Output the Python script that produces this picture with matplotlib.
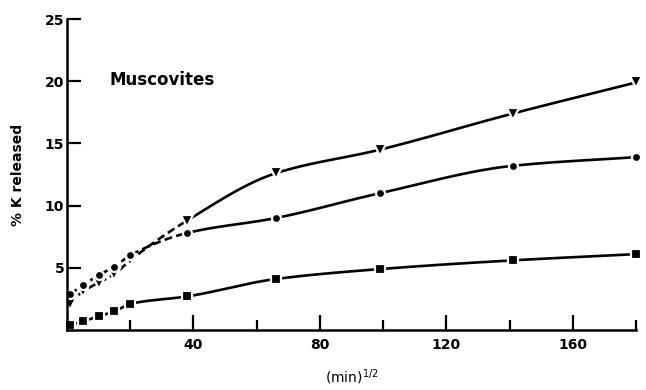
import numpy as np
import matplotlib.pyplot as plt
from matplotlib.ticker import MultipleLocator

# square root of time, (min)^1/2
time_sqrt = [1, 5, 10, 15, 20, 38, 66, 99, 141, 180]

# % K released for the three muscovite samples
k_triangle = [2.1, 3.1, 3.8, 4.5, 5.6, 8.8, 12.6, 14.5, 17.4, 19.9]
k_circle = [2.9, 3.6, 4.4, 5.1, 6.0, 7.8, 9.0, 11.0, 13.2, 13.9]
k_square = [0.4, 0.7, 1.1, 1.5, 2.1, 2.7, 4.1, 4.9, 5.6, 6.1]

y_ticks = [5, 10, 15, 20, 25]
x_ticks = [40, 80, 120, 160]

fig = plt.figure(figsize=(6.46, 3.90), dpi=100)
ax = fig.add_axes([0.1037, 0.1538, 0.8808, 0.7974])

lw = 1.9
n_dash = 6  # first points are joined by a broken line
n_seg = 30


def smooth(xs, ys):
    # monotone cubic (Fritsch-Carlson) curve through the points
    xs = np.asarray(xs, float)
    ys = np.asarray(ys, float)
    h = np.diff(xs)
    d = np.diff(ys) / h
    m = np.zeros_like(ys)
    m[0], m[-1] = d[0], d[-1]
    for k in range(1, len(xs) - 1):
        if d[k - 1] * d[k] > 0:
            w1 = 2 * h[k] + h[k - 1]
            w2 = h[k] + 2 * h[k - 1]
            m[k] = (w1 + w2) / (w1 / d[k - 1] + w2 / d[k])
    px, py = [], []
    t = np.linspace(0, 1, n_seg)
    h00 = 2 * t**3 - 3 * t**2 + 1
    h10 = t**3 - 2 * t**2 + t
    h01 = -2 * t**3 + 3 * t**2
    h11 = t**3 - t**2
    for i in range(len(xs) - 1):
        px.append(xs[i] + t * h[i])
        py.append(h00 * ys[i] + h10 * h[i] * m[i] + h01 * ys[i + 1]
                  + h11 * h[i] * m[i + 1])
    return np.concatenate(px), np.concatenate(py)


def draw_series(ys, marker, ms, dashed=True):
    cx, cy = smooth(time_sqrt, ys)
    cut = n_seg * (n_dash - 1) if dashed else 0
    if cut:
        ax.plot(cx[:cut], cy[:cut], color='k', lw=lw, ls=(0, (3, 1.6)),
                zorder=2, clip_on=False)
    ax.plot(cx[cut:], cy[cut:], color='k', lw=lw, zorder=2, clip_on=False)
    ax.plot(time_sqrt, ys, ls='none', marker=marker, ms=ms, color='k',
            markeredgecolor='white', markeredgewidth=1.6, zorder=3,
            clip_on=False)


draw_series(k_triangle, 'v', 9)
draw_series(k_circle, 'o', 6.5)
draw_series(k_square, 's', 7, dashed=False)

ax.set_xlim(0, 180)
ax.set_ylim(0, 25)
ax.spines['top'].set_visible(False)
ax.spines['right'].set_visible(False)
for s in ('left', 'bottom'):
    ax.spines[s].set_linewidth(1.8)
    ax.spines[s].set_zorder(4)

ax.set_xticks(x_ticks)
ax.xaxis.set_minor_locator(MultipleLocator(20))
ax.set_yticks(y_ticks)
ax.tick_params(axis='x', which='major', direction='in', length=11, width=1.6,
               labelsize=10, pad=6)
ax.tick_params(axis='x', which='minor', direction='in', length=7, width=1.6)
ax.tick_params(axis='y', which='major', direction='in', length=10, width=1.6,
               labelsize=10, pad=2)
for lab in ax.get_xticklabels() + ax.get_yticklabels():
    lab.set_fontweight('bold')

ax.set_ylabel('% K released', fontsize=10, fontweight='bold', labelpad=14)
ax.set_xlabel('(min)$^{1/2}$', fontsize=10, labelpad=11)

ax.text(13.5, 20.1, 'Muscovites', fontsize=12, fontweight='bold',
        ha='left', va='center')

fig.savefig('out.png', dpi=100)
